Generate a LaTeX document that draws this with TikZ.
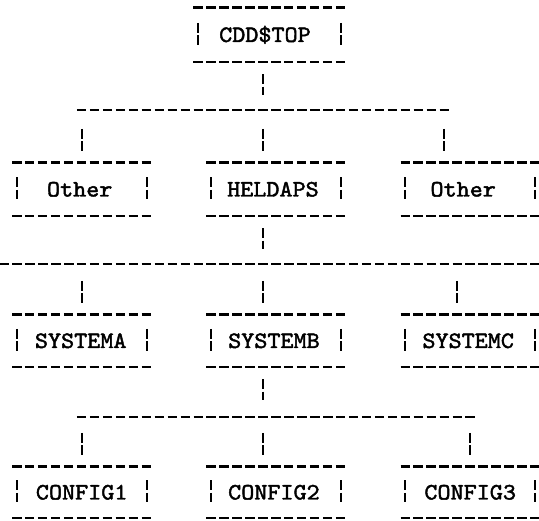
\documentclass[tikz,border=0pt]{standalone}
\usepackage{fontspec}
\newfontfamily\tw{lmmono10-regular.otf}[FakeBold=1.8,FakeStretch=1.06]
\usetikzlibrary{calc}
\newcommand\tybox[1]{%
  \draw[dashrow] (#1.north west) -- (#1.north east);
  \draw[dashrow] (#1.south west) -- (#1.south east);
  \draw[vbar] ($(#1.west)+(4.75,-12)$) -- ++(0,22);
  \draw[vbar] ($(#1.east)+(-4.75,-12)$) -- ++(0,22);
}
\begin{document}
\begin{tikzpicture}[x=1pt,y=-1pt,
  dashrow/.style={draw=black, line width=2.6pt, dash pattern=on 9.5pt off 3.45pt},
  vbar/.style={draw=black, line width=2.3pt, dash pattern=on 10pt off 2.5pt},
  frame/.style={inner sep=0pt, text height=14pt, text depth=0pt,
    font=\tw\fontsize{23.5}{23.5}\selectfont, text=black},
  w11/.style={frame, minimum width=139pt},
  w12/.style={frame, minimum width=151.95pt},
]
\useasboundingbox[fill=white] (0,0) rectangle (539,521);

% column references
\coordinate (c6)  at (81.7,0);
\coordinate (c20) at (263,0);
\coordinate (c34) at (444.3,0);
\coordinate (c35) at (457.25,0);
\coordinate (c36) at (470.2,0);

% boxes
\node[w12, minimum height=54pt] (cdd) at (269.475,35) {CDD\$TOP\kern9pt};

\node[w11, minimum height=53pt] (other1)  at (81.7,189.5)   {Other\kern4pt};
\node[w11, minimum height=53pt] (heldaps) at (275.95,189.5) {HELDAPS\kern6pt};
\node[w11, minimum height=53pt] (other2)  at (470.2,189.5)  {Other\kern14pt};

\node[w11, minimum height=52pt] (systema) at (81.7,341)   {SYSTEMA\kern2pt};
\node[w11, minimum height=52pt] (systemb) at (275.95,341) {SYSTEMB\kern4pt};
\node[w11, minimum height=52pt] (systemc) at (470.2,341)  {SYSTEMC\kern4pt};

\node[w11, minimum height=51pt] (config1) at (81.7,492.5)   {CONFIG1};
\node[w11, minimum height=51pt] (config2) at (275.95,492.5) {CONFIG2\kern4pt};
\node[w11, minimum height=51pt] (config3) at (470.2,492.5)  {CONFIG3};

\foreach \b in {cdd,other1,heldaps,other2,systema,systemb,systemc,config1,config2,config3}{\tybox{\b}}

% bus lines
\coordinate (b1w) at (76.95,110);  \coordinate (b1e) at (449.05,110);
\coordinate (b2w) at (-0.75,264);  \coordinate (b2e) at (539.75,264);
\coordinate (b3w) at (76.95,417);  \coordinate (b3e) at (474.95,417);
\draw[dashrow] (b1w) -- (b1e);
\draw[dashrow] (b2w) -- (b2e);
\draw[dashrow] (b3w) -- (b3e);

% drops from parents
\draw[vbar] ($(cdd.south -| c20)+(0,12)$) -- ++(0,21);
\draw[vbar] ($(heldaps.south -| c20)+(0,12)$) -- ++(0,21);
\draw[vbar] ($(systemb.south -| c20)+(0,12)$) -- ++(0,21);

% drops to children
\draw[vbar] ($(other1.north -| c6)+(0,-34)$) -- ++(0,22);
\draw[vbar] ($(heldaps.north -| c20)+(0,-34)$) -- ++(0,22);
\draw[vbar] ($(other2.north -| c34)+(0,-34)$) -- ++(0,22);

\draw[vbar] ($(systema.north -| c6)+(0,-34)$) -- ++(0,22);
\draw[vbar] ($(systemb.north -| c20)+(0,-34)$) -- ++(0,22);
\draw[vbar] ($(systemc.north -| c35)+(0,-34)$) -- ++(0,22);

\draw[vbar] ($(config1.north -| c6)+(0,-34)$) -- ++(0,22);
\draw[vbar] ($(config2.north -| c20)+(0,-34)$) -- ++(0,22);
\draw[vbar] ($(config3.north -| c36)+(0,-34)$) -- ++(0,22);
\end{tikzpicture}
\end{document}
